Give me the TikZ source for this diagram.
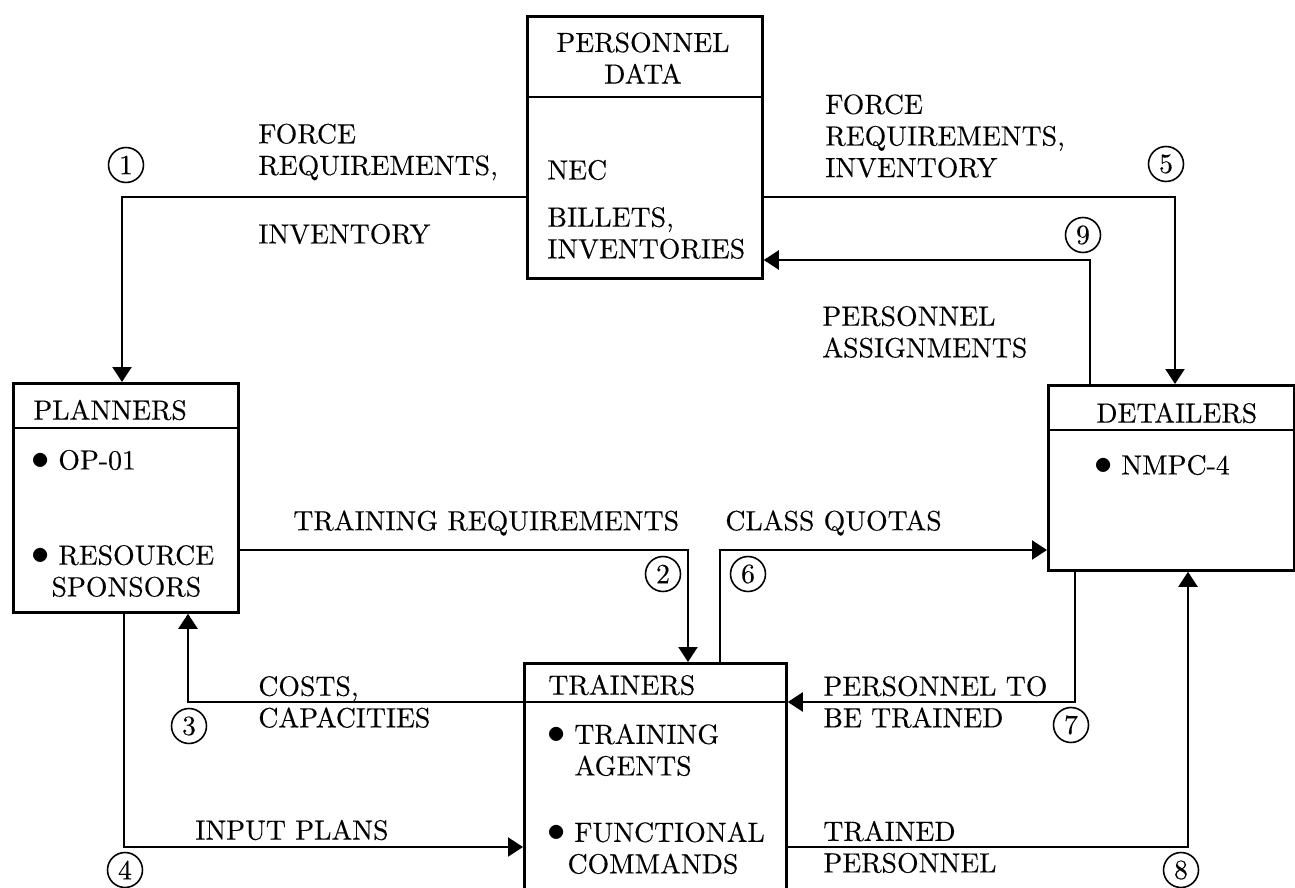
\documentclass[tikz,border=0pt]{standalone}
\usepackage{fontspec}
\setmainfont{lmroman10-regular.otf}[FakeBold=0.25]
\usepackage{tikz}
\usetikzlibrary{arrows.meta}
\newcommand{\dotitem}{{\fontsize{21}{18}\selectfont$\bullet$}\hspace{5pt}}

\begin{document}
\begin{tikzpicture}[x=0.02cm, y=-0.02cm, font=\fontsize{15.8}{18}\selectfont,
  box/.style={draw, line width=1.6pt, anchor=north west, inner sep=0},
  txt/.style={anchor=west, inner sep=0, align=left},
  num/.style={circle, draw, line width=0.9pt, minimum size=0.7cm, inner sep=0},
  flow/.style={line width=1.2pt, -{Triangle[length=0.3cm, width=0.38cm]}}]
\useasboundingbox (0,0) rectangle (1295,888);

\node [box, minimum width=4.70cm, minimum height=5.24cm] (pd) at (526,15) {};
\node [box, minimum width=4.50cm, minimum height=4.58cm] (pl) at (12,382) {};
\node [box, minimum width=4.92cm, minimum height=3.70cm] (dt) at (1047,384) {};
\node [box, minimum width=5.24cm, minimum height=4.80cm] (tr) at (523,662) {};

\coordinate (h1) at (0,97);
\coordinate (h2) at (0,428);
\coordinate (h3) at (0,430);
\coordinate (h4) at (0,702);
\draw[line width=1.6pt] (pd.west |- h1) -- (pd.east |- h1);
\draw[line width=1.6pt] (pl.west |- h2) -- (pl.east |- h2);
\draw[line width=1.6pt] (dt.west |- h3) -- (dt.east |- h3);
\draw[line width=1.6pt] (tr.west |- h4) -- (tr.east |- h4);

\node [align=center, inner sep=0] (pdt) at (643,58) {PERSONNEL\\DATA};
\node [txt] (nec) at (547,170) {NEC};
\node [txt] (bil) at (547,233) {BILLETS,\\INVENTORIES};
\node [txt] (plt) at (33,410) {PLANNERS};
\node [txt] (op) at (31,460) {\dotitem OP-01};
\node [txt] (rs) at (31,571) {\dotitem RESOURCE\\\hspace*{11.5pt}SPONSORS};
\node [txt] (dtt) at (1096,413) {DETAILERS};
\node [txt] (nm) at (1094,465) {\dotitem NMPC-4};
\node [txt] (trt) at (548,685) {TRAINERS};
\node [txt] (ta) at (547,750) {\dotitem TRAINING\\\hspace*{15.5pt}AGENTS};
\node [txt] (fc) at (547,848) {\dotitem FUNCTIONAL\\\hspace*{11.5pt}COMMANDS};

\node [txt] (lf1) at (258,152) {FORCE\\REQUIREMENTS,};
\node [txt] (lf2) at (258,234) {INVENTORY};
\node [txt] (rf) at (825,136) {FORCE\\REQUIREMENTS,\\INVENTORY};
\node [txt] (pa) at (822,332) {PERSONNEL\\ASSIGNMENTS};
\node [txt] (trq) at (293,523) {TRAINING REQUIREMENTS};
\node [txt] (cq) at (725,523) {CLASS QUOTAS};
\node [txt] (cc) at (258,702) {COSTS,\\CAPACITIES};
\node [txt] (pt) at (823,702) {PERSONNEL TO\\BE TRAINED};
\node [txt] (ip) at (195,830) {INPUT PLANS};
\node [txt] (tp) at (823,847) {TRAINED\\PERSONNEL};

\node [num] (n1) at (126,165) {1};
\node [num] (n2) at (663,574) {2};
\node [num] (n3) at (189,726) {3};
\node [num] (n4) at (125,870) {4};
\node [num] (n5) at (1166,164) {5};
\node [num] (n6) at (748,574) {6};
\node [num] (n7) at (1071,725) {7};
\node [num] (n8) at (1181,870) {8};
\node [num] (n9) at (1083,235) {9};

\coordinate (k1) at (122,197);
\coordinate (k2) at (688,550);
\coordinate (k3) at (188,702);
\coordinate (k4) at (124,847);
\coordinate (k5) at (1175,197);
\coordinate (k6) at (720,550);
\coordinate (k7) at (1075,702);
\coordinate (k8) at (1188,847);
\coordinate (k9) at (1090,260);

\draw[flow] (pd.west |- k1) -- (k1) -- (pl.north -| k1);
\draw[flow] (pl.east |- k2) -- (k2) -- (tr.north -| k2);
\draw[flow] (tr.west |- k3) -- (k3) -- (pl.south -| k3);
\draw[flow] (pl.south -| k4) -- (k4) -- (tr.west |- k4);
\draw[flow] (pd.east |- k5) -- (k5) -- (dt.north -| k5);
\draw[flow] (tr.north -| k6) -- (k6) -- (dt.west |- k6);
\draw[flow] (dt.south -| k7) -- (k7) -- (tr.east |- k7);
\draw[flow] (tr.east |- k8) -- (k8) -- (dt.south -| k8);
\draw[flow] (dt.north -| k9) -- (k9) -- (pd.east |- k9);
\end{tikzpicture}
\end{document}
